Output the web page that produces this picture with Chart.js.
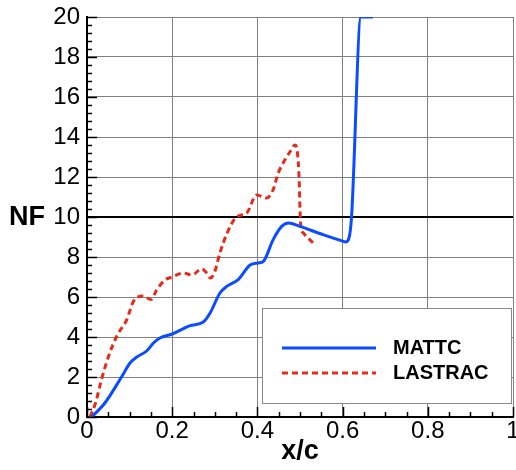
<!DOCTYPE html>
<html>
<head>
<meta charset="utf-8">
<script src="https://cdn.jsdelivr.net/npm/chart.js@4/dist/chart.umd.min.js"></script>
<style>
  html, body { margin: 0; padding: 0; background: #fff; }
  #wrap { width: 516px; height: 470px; }
</style>
</head>
<body>
<div id="wrap"><canvas id="c" width="516" height="470"></canvas></div>
<script>
// ---- data ----
const mattcX = [0.011, 0.042, 0.081, 0.101, 0.117, 0.140, 0.156, 0.171, 0.200, 0.242, 0.273, 0.289, 0.312, 0.328, 0.355, 0.383, 0.402, 0.414, 0.437, 0.457, 0.473, 0.500, 0.550, 0.602, 0.607, 0.615, 0.621, 0.643, 0.671];
const mattcY = [0.0, 0.7, 2.0, 2.7, 3.0, 3.3, 3.7, 3.95, 4.15, 4.57, 4.75, 5.2, 6.2, 6.53, 6.87, 7.6, 7.7, 7.78, 8.87, 9.53, 9.7, 9.53, 9.15, 8.78, 8.75, 8.95, 10.0, 20.0, 20.0];

const lastracX = [0.007, 0.020, 0.034, 0.050, 0.070, 0.093, 0.109, 0.132, 0.150, 0.164, 0.183, 0.200, 0.226, 0.246, 0.269, 0.281, 0.290, 0.300, 0.312, 0.328, 0.351, 0.375, 0.398, 0.422, 0.437, 0.449, 0.465, 0.480, 0.488, 0.494, 0.498, 0.500, 0.502, 0.508, 0.531];
const lastracY = [0.0, 0.7, 1.87, 3.0, 4.05, 4.85, 5.78, 6.05, 5.87, 6.37, 6.85, 7.0, 7.2, 7.1, 7.4, 7.2, 6.95, 7.28, 8.2, 9.15, 10.0, 10.2, 11.1, 10.95, 11.37, 12.2, 12.87, 13.37, 13.6, 13.2, 11.87, 10.37, 9.53, 9.2, 8.7];

const seriesNames = ['MATTC', 'LASTRAC'];
const xTickValues = [0, 0.2, 0.4, 0.6, 0.8, 1];
const xTickLabels = ['0', '0.2', '0.4', '0.6', '0.8', '1'];
const yTickValues = [0, 2, 4, 6, 8, 10, 12, 14, 16, 18, 20];
const yTickLabels = ['0', '2', '4', '6', '8', '10', '12', '14', '16', '18', '20'];
const thresholdValue = 10;
const yTitle = 'NF';
const xTitle = 'x/c';

// ---- build ----
const toPts = (xs, ys) => xs.map((x, i) => ({ x: x, y: ys[i] }));
const FONT = "'Liberation Sans', Arial, Helvetica, sans-serif";

const minorTicks = {
  id: 'minorTicks',
  afterDraw(chart) {
    const ctx = chart.ctx, xs = chart.scales.x, ys = chart.scales.y;
    const a = chart.chartArea;
    ctx.save();
    ctx.strokeStyle = '#000';
    ctx.lineWidth = 1.5;
    ctx.beginPath();
    for (let i = 0; i <= 50; i++) {
      const y = Math.round(ys.getPixelForValue(i * 0.4)) + 0.5;
      const len = (i % 5 === 0) ? 10 : 5;
      ctx.moveTo(a.left, y); ctx.lineTo(a.left + len, y);
    }
    for (let i = 0; i <= 20; i++) {
      const x = Math.round(xs.getPixelForValue(i * 0.05)) + 0.5;
      const len = (i % 4 === 0) ? 10 : 5;
      ctx.moveTo(x, a.bottom); ctx.lineTo(x, a.bottom - len);
    }
    ctx.stroke();
    // y title, horizontal, level with the threshold line
    ctx.fillStyle = '#000';
    ctx.font = 'bold 27px ' + FONT;
    ctx.textAlign = 'left';
    ctx.textBaseline = 'middle';
    ctx.fillText(yTitle, 9, ys.getPixelForValue(thresholdValue) + 1);
    ctx.restore();
  }
};

const boxLegend = {
  id: 'boxLegend',
  afterDraw(chart) {
    const ctx = chart.ctx;
    const bx = 262, by = 308, bw = 249, bh = 95;
    ctx.save();
    ctx.fillStyle = '#fff';
    ctx.fillRect(bx, by, bw, bh);
    ctx.strokeStyle = '#8a8a8a';
    ctx.lineWidth = 1;
    ctx.strokeRect(bx + 0.5, by + 0.5, bw, bh);
    chart.data.datasets.forEach((ds, i) => {
      const y = 348 + i * 25;
      ctx.strokeStyle = ds.borderColor;
      ctx.lineWidth = ds.borderWidth;
      ctx.setLineDash(ds.borderDash || []);
      ctx.beginPath();
      ctx.moveTo(282, y); ctx.lineTo(376, y);
      ctx.stroke();
      ctx.setLineDash([]);
      ctx.fillStyle = '#000';
      ctx.font = 'bold 20px ' + FONT;
      ctx.textAlign = 'left';
      ctx.textBaseline = 'middle';
      ctx.fillText(ds.label, 393, y + 0.5);
    });
    ctx.restore();
  }
};

new Chart(document.getElementById('c'), {
  type: 'line',
  data: {
    datasets: [
      {
        label: seriesNames[0],
        data: toPts(mattcX, mattcY),
        borderColor: '#0a4cff',
        borderWidth: 3,
        pointRadius: 0,
        fill: false,
        cubicInterpolationMode: 'monotone'
      },
      {
        label: seriesNames[1],
        data: toPts(lastracX, lastracY),
        borderColor: '#e52b1c',
        borderWidth: 3,
        borderDash: [6, 4],
        pointRadius: 0,
        fill: false,
        cubicInterpolationMode: 'monotone'
      }
    ]
  },
  options: {
    responsive: false,
    animation: false,
    layout: { padding: { left: 0, top: 17, right: 3, bottom: 0 } },
    plugins: { legend: { display: false }, tooltip: { enabled: false } },
    scales: {
      x: {
        type: 'linear',
        min: 0, max: 1,
        afterBuildTicks: s => { s.ticks = xTickValues.map(v => ({ value: v })); },
        afterFit: s => { s.height = 53; s.paddingRight = 0; s.paddingLeft = 0; },
        ticks: {
          callback: (v, i) => xTickLabels[i],
          color: '#000',
          font: { family: FONT, size: 24 },
          padding: 0,
          maxRotation: 0,
          autoSkip: false
        },
        grid: { color: '#808080', lineWidth: 1, drawTicks: false },
        border: { display: true, color: '#000', width: 2 },
        title: {
          display: true, text: xTitle, color: '#000',
          font: { family: FONT, size: 27, weight: 'bold' },
          padding: { top: 0, bottom: 2 }
        }
      },
      y: {
        type: 'linear',
        min: 0, max: 20,
        afterBuildTicks: s => { s.ticks = yTickValues.map(v => ({ value: v })); },
        afterFit: s => { s.width = 87; s.paddingTop = 0; s.paddingBottom = 0; },
        ticks: {
          callback: (v, i) => yTickLabels[i],
          color: '#000',
          font: { family: FONT, size: 24 },
          padding: 7,
          autoSkip: false
        },
        grid: {
          color: c => (c.tick && c.tick.value === thresholdValue) ? '#000' : '#808080',
          lineWidth: c => (c.tick && c.tick.value === thresholdValue) ? 2 : 1,
          drawTicks: false
        },
        border: { display: true, color: '#000', width: 2 }
      }
    }
  },
  plugins: [minorTicks, boxLegend]
});
</script>
</body>
</html>
